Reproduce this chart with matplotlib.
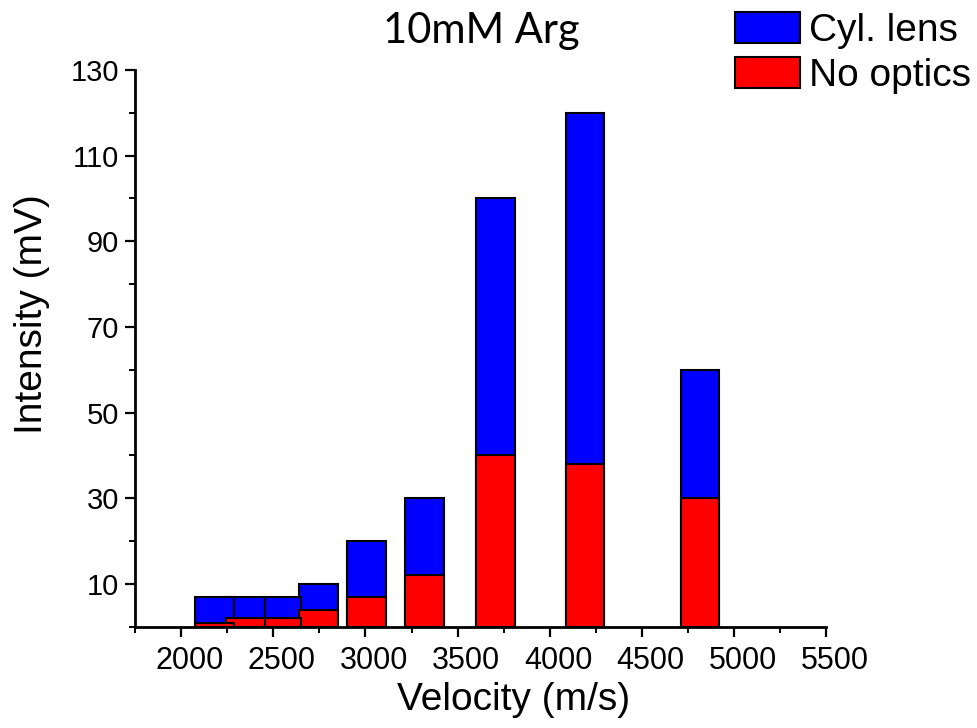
import matplotlib.pyplot as plt
import numpy as np
from matplotlib.ticker import MultipleLocator
from matplotlib.transforms import ScaledTranslation

plt.rcParams.update({
    "font.family": ["Liberation Sans", "DejaVu Sans"],
    "font.size": 20,
})

# data
velocity = [2180, 2350, 2545, 2745, 3005, 3320, 3705, 4190, 4815]
cyl_lens = [7, 7, 7, 10, 20, 30, 100, 120, 60]
no_optics = [1, 2, 2, 4, 7, 12, 40, 38, 30]
series_names = ["Cyl. lens", "No optics"]

fig = plt.figure(figsize=(9.78, 7.28), dpi=100)
ax = fig.add_axes([0.138, 0.139, 0.707, 0.765])

width = 210
n = len(velocity)
# later bars sit underneath earlier ones, like the original
for i in range(n):
    z = 2 + (n - i) * 0.01
    ax.bar(velocity[i], cyl_lens[i], width=width, color="#0000ff",
           edgecolor="black", linewidth=1.5, zorder=z,
           label=series_names[0] if i == 0 else None)
for i in range(n):
    z = 3 + (n - i) * 0.01
    ax.bar(velocity[i], no_optics[i], width=width, color="#ff0000",
           edgecolor="black", linewidth=1.5, zorder=z,
           label=series_names[1] if i == 0 else None)

ax.set_xlim(1750, 5500)
ax.set_ylim(0, 130)
ax.set_xticks(np.arange(2000, 5501, 500))
ax.xaxis.set_minor_locator(MultipleLocator(250))
ax.set_yticks(np.arange(10, 131, 20))
ax.set_yticks(np.arange(0, 131, 10), minor=True)

for s in ["top", "right"]:
    ax.spines[s].set_visible(False)
for s in ["left", "bottom"]:
    ax.spines[s].set_linewidth(2)

ax.tick_params(which="major", length=7.5, width=1.6)
ax.tick_params(which="minor", length=4, width=1.4)
ax.tick_params(axis="x", which="major", labelsize=22, pad=6.5)
ax.tick_params(axis="y", which="major", labelsize=21, pad=4)

# x tick labels sit a little right of their ticks in the original
shift = ScaledTranslation(8.5 / 100, 0, fig.dpi_scale_trans)
for lab in ax.get_xticklabels():
    lab.set_transform(lab.get_transform() + shift)

ax.set_xlabel("Velocity (m/s)", fontsize=28)
ax.xaxis.set_label_coords(0.547, -0.099)
ax.set_ylabel("Intensity (mV)", fontsize=28)
ax.yaxis.label.set_va("center")
ax.yaxis.set_label_coords(-0.149, 0.562)

fig.text(0.492, 0.941, "10mM Arg", fontsize=30, family=["Lato", "DejaVu Sans"],
         ha="center", va="baseline")

ax.legend(loc="upper left", bbox_to_anchor=(0.752, 0.984), bbox_transform=fig.transFigure,
          frameon=False, fontsize=28, handlelength=1.65, handleheight=0.85,
          labelspacing=0.22, handletextpad=0.25, borderaxespad=0, borderpad=0)

fig.savefig("out.png", dpi=100)
